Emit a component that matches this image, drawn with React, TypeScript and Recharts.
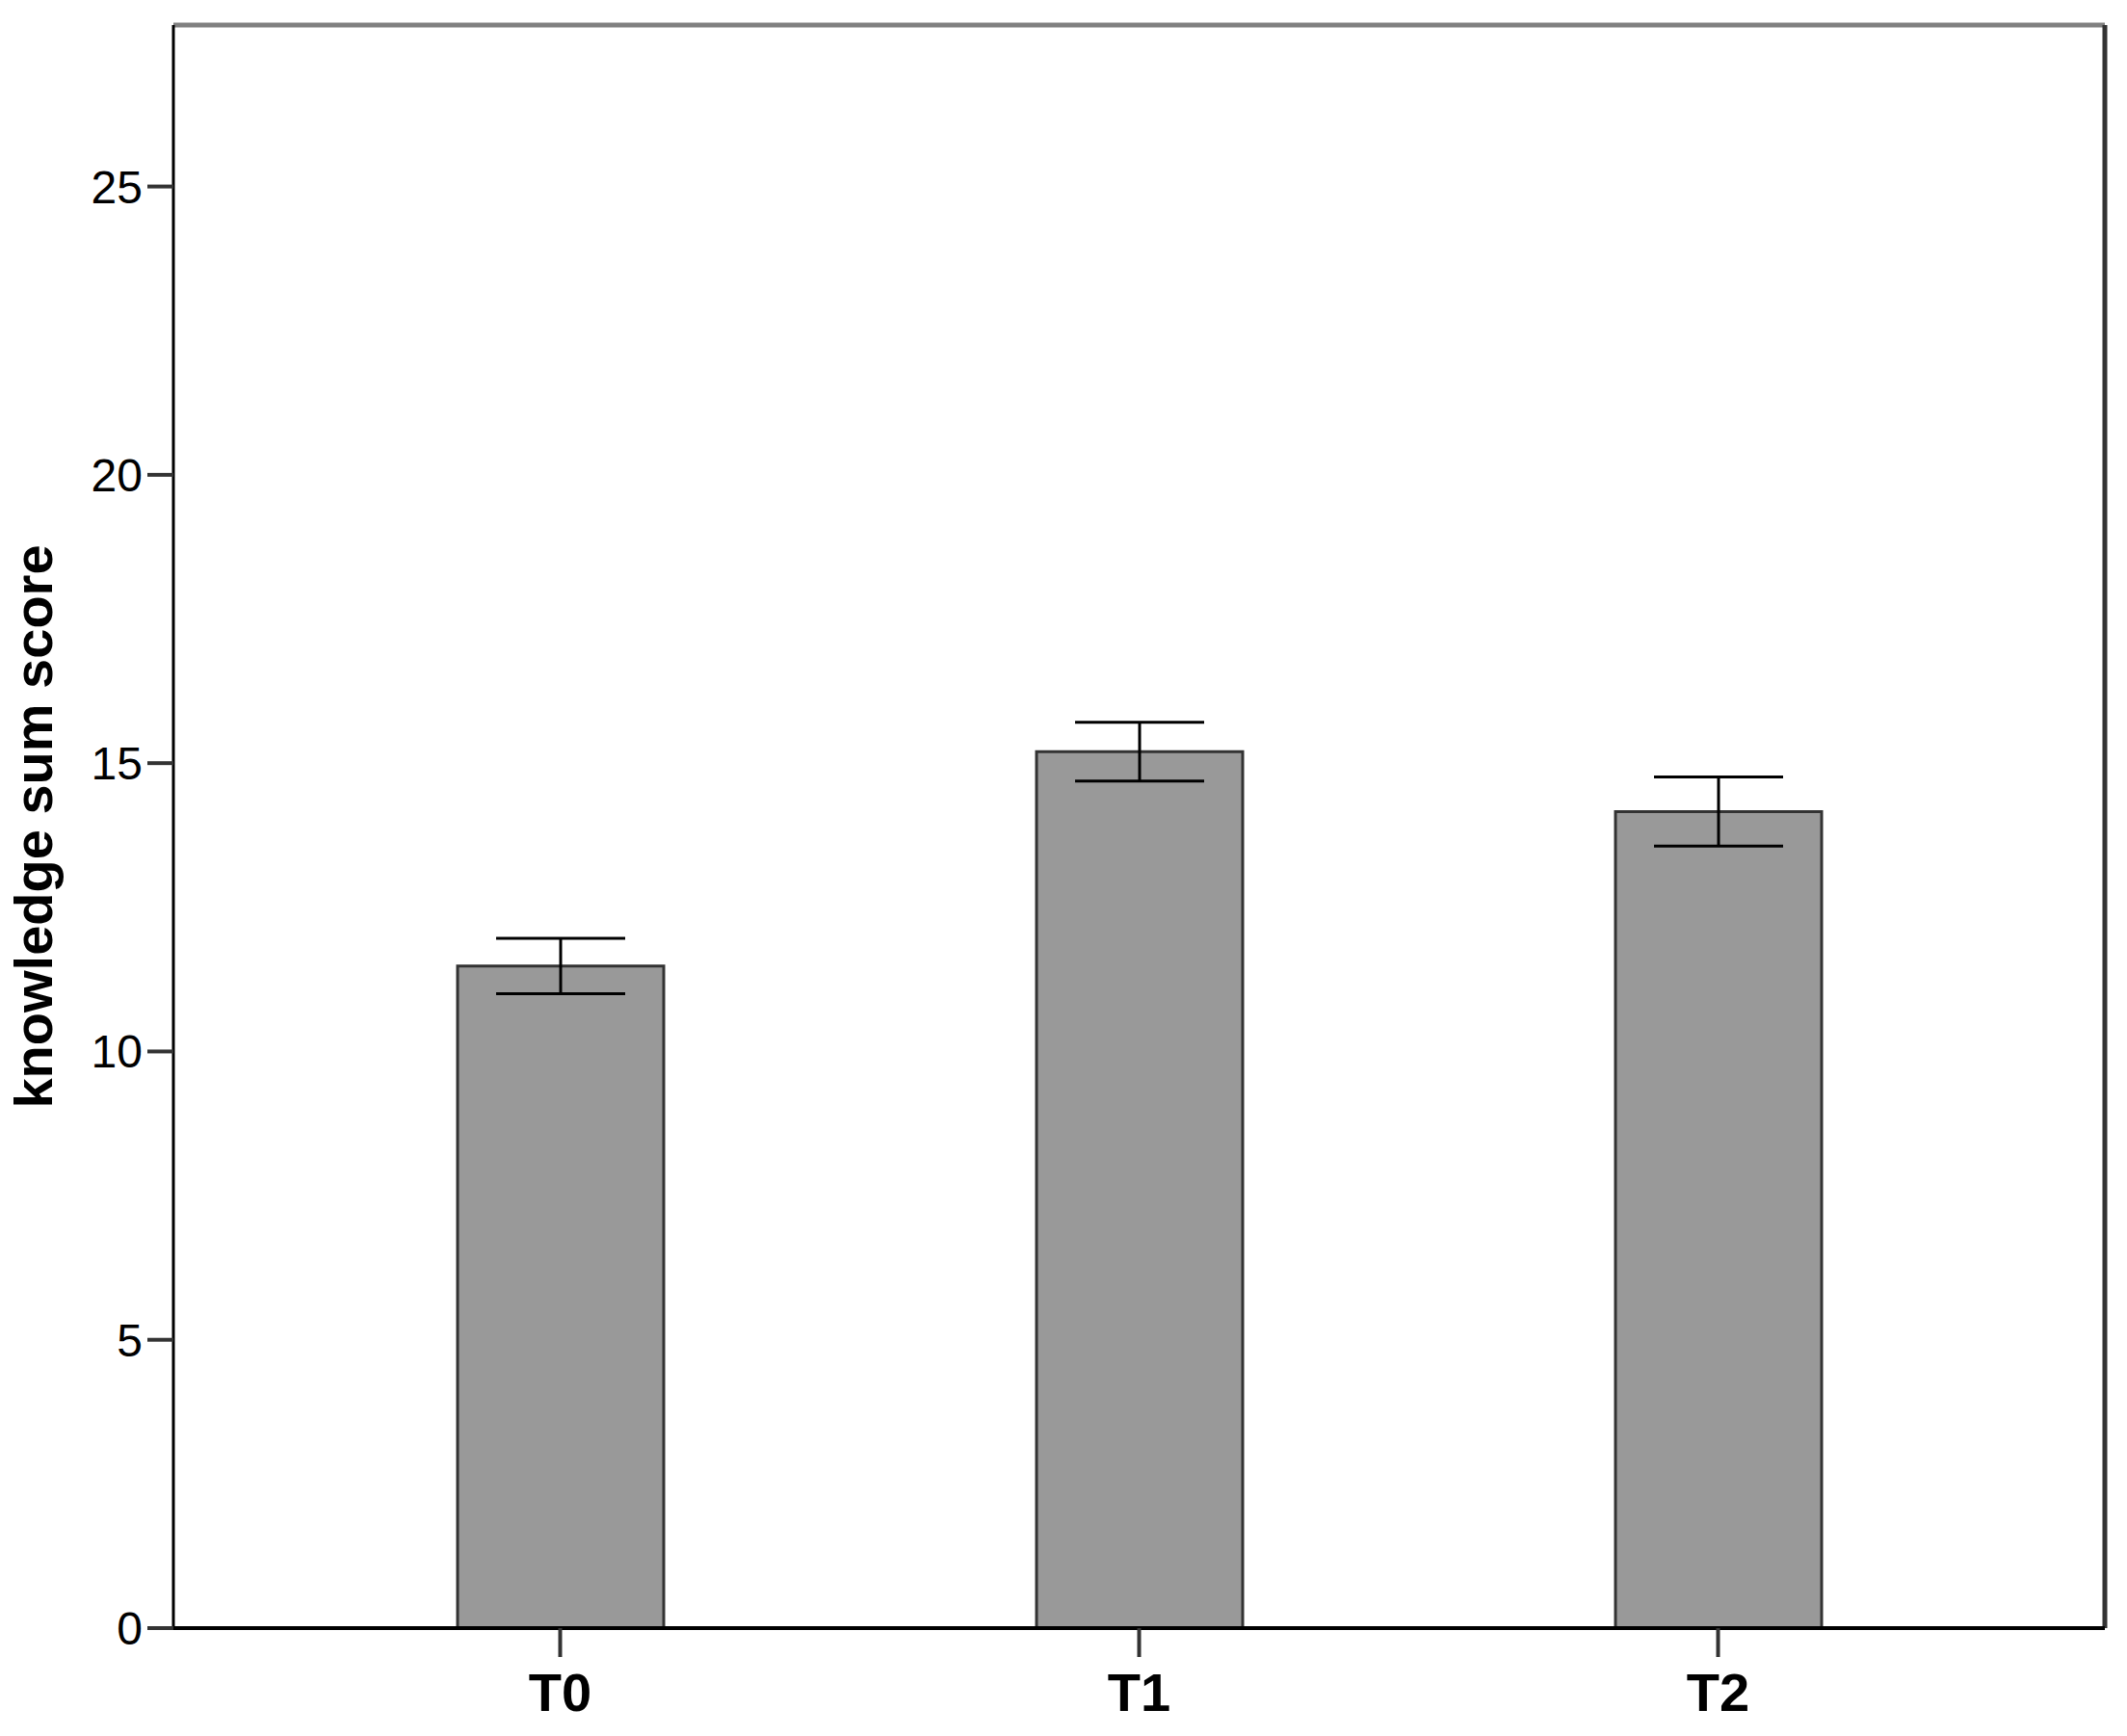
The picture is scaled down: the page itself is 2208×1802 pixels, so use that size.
import React from 'react';
import { BarChart, Bar, XAxis, YAxis, ErrorBar, Label, CartesianGrid } from 'recharts';

const times = ['T0', 'T1', 'T2'];
const meanScores = [11.48, 15.2, 14.16];
const ciHalfWidth = [0.48, 0.51, 0.6];
const yTicks = [0, 5, 10, 15, 20, 25];
const yMax = 27.8;

const data = times.map((time, i) => ({
  time,
  score: meanScores[i],
  err: ciHalfWidth[i],
}));

const FONT = '"Liberation Sans", Arial, sans-serif';

const YTitle = (props: any) => {
  const { viewBox } = props;
  const x = viewBox.x + 54;
  const y = viewBox.y + viewBox.height / 2;
  return (
    <text
      x={x}
      y={y}
      transform={`rotate(-90, ${x}, ${y})`}
      textAnchor="middle"
      fontFamily={FONT}
      fontWeight="bold"
      fontSize={56}
      fill="#000"
    >
      knowledge sum score
    </text>
  );
};

// frame lines: top edge and right edge of the plot area
const topEdge = ({ offset }: any) => [offset.top];
const rightEdge = ({ offset }: any) => [offset.left + offset.width];

export default function App() {
  return (
    <div style={{ position: 'absolute', left: 0, top: 0, width: 2208, height: 1802, background: '#fff' }}>
      <BarChart
        width={2208}
        height={1802}
        data={data}
        margin={{ top: 26, right: 23, left: 0, bottom: 0 }}
      >
        <CartesianGrid
          vertical={false}
          horizontalCoordinatesGenerator={topEdge}
          stroke="#808080"
          strokeWidth={5}
        />
        <CartesianGrid
          horizontal={false}
          verticalCoordinatesGenerator={rightEdge}
          stroke="#333"
          strokeWidth={5}
        />
        <XAxis
          dataKey="time"
          height={112}
          padding={{ left: 101, right: 101 }}
          axisLine={{ stroke: '#000', strokeWidth: 4 }}
          tickLine={{ stroke: '#333', strokeWidth: 4 }}
          tickSize={30}
          tickMargin={16}
          tick={{ fill: '#000', fontSize: 56, fontWeight: 'bold', fontFamily: FONT }}
        />
        <YAxis
          width={180}
          domain={[0, yMax]}
          ticks={yTicks}
          allowDataOverflow
          axisLine={{ stroke: '#000', strokeWidth: 3 }}
          tickLine={{ stroke: '#333', strokeWidth: 4 }}
          tickSize={27}
          tickMargin={5}
          tick={{ fill: '#000', fontSize: 48, fontFamily: FONT }}
        >
          <Label content={YTitle} />
        </YAxis>
        <Bar
          dataKey="score"
          barSize={214}
          fill="#999999"
          stroke="#333"
          strokeWidth={3}
          isAnimationActive={false}
        >
          <ErrorBar dataKey="err" width={67} stroke="#000" strokeWidth={3} isAnimationActive={false} />
        </Bar>
      </BarChart>
    </div>
  );
}
